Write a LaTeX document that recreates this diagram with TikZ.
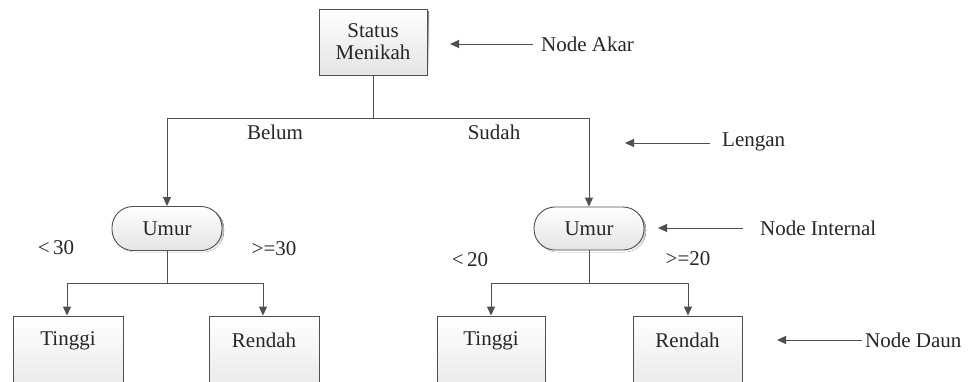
\documentclass[tikz,border=0pt]{standalone}
\usepackage{fontspec}
\setmainfont{Liberation Serif}
\usetikzlibrary{arrows.meta}
\definecolor{edge}{HTML}{505050}
\definecolor{boxtop}{HTML}{FFFFFF}
\definecolor{boxbot}{HTML}{E4E4E4}
\definecolor{shade}{HTML}{C8C8C8}
\tikzset{
  x=1pt, y=-1pt,
  every node/.style={font=\fontsize{21}{22}\selectfont, text=black!85},
  boxbase/.style={draw=edge, line width=0.9pt, top color=boxtop, bottom color=boxbot, inner sep=0pt},
  rootbox/.style={boxbase, minimum width=108pt, minimum height=66pt, align=center},
  leafbox/.style={boxbase, minimum width=110pt, minimum height=90pt},
  pill/.style={boxbase, rounded corners=21pt, minimum width=110pt, minimum height=44pt},
  link/.style={draw=edge, line width=0.9pt},
  arr/.style={link, -{Triangle[length=9pt,width=8pt]}},
  lbl/.style={inner sep=0pt},
  note/.style={inner sep=0pt, anchor=west}
}
\begin{document}
\begin{tikzpicture}
\useasboundingbox (0,0) rectangle (969,381);
\clip (0,0) rectangle (969,381);

% tree nodes (soft shadows first)
\fill[shade] (321,11) rectangle (429,77);
\node[rootbox] (root) at (373,42) {Status\\Menikah};

\fill[shade, rounded corners=21pt] (114,208) rectangle (224,252);
\node[pill] (uL) at (167,228.5) {Umur};
\fill[shade, rounded corners=21pt] (536,209) rectangle (646,252);
\node[pill, minimum height=43pt] (uR) at (589,228.5) {Umur};

\node[leafbox] (t1) at (68,361) {};
\node[leafbox] (r1) at (264,361) {};
\node[leafbox, minimum width=108pt] (t2) at (491,361) {};
\node[leafbox, minimum width=109pt] (r2) at (687.5,361) {};
\node at (68,341) {Tinggi};
\node at (264,340) {Rendah};
\node at (491,341) {Tinggi};
\node at (687.5,340) {Rendah};

% branch junctions
\coordinate (j0) at (373,118);
\coordinate (j0L) at (167,118);
\coordinate (j0R) at (589,118);
\coordinate (j1) at (167,283);
\coordinate (j1L) at (67,283);
\coordinate (j1R) at (263,283);
\coordinate (j2) at (589,283);
\coordinate (j2L) at (491,283);
\coordinate (j2R) at (688,283);

\draw[link] (root.south) -- (j0);
\draw[link] (j0L) -- (j0R);
\draw[arr] (j0L) -- (uL.north);
\draw[arr] (j0R) -- (uR.north);

\draw[link] (uL.south) -- (j1);
\draw[link] (j1L) -- (j1R);
\draw[arr] (j1L) -- (j1L |- t1.north);
\draw[arr] (j1R) -- (j1R |- r1.north);

\draw[link] (uR.south) -- (j2);
\draw[link] (j2L) -- (j2R);
\draw[arr] (j2L) -- (j2L |- t2.north);
\draw[arr] (j2R) -- (j2R |- r2.north);

% branch labels
\node[lbl] at (275,132) {Belum};
\node[lbl] at (494,132) {Sudah};
\node[lbl] at (56,248) {<\,30};
\node[lbl] at (274,249) {>=30};
\node[lbl] at (470,260) {<\,20};
\node[lbl] at (688,259) {>=20};

% annotations
\node[note] (nA) at (541,44) {Node Akar};
\draw[arr] (533,44) -- (450,44);

\node[note] (nL) at (722,142) {Lengan};
\draw[arr] (710,143) -- (625,143);

\node[note] (nI) at (760,228) {Node Internal};
\draw[arr] (743,228) -- (658,228);

\node[note] (nD) at (865,340) {Node Daun};
\draw[arr] (862,340) -- (777,340);
\end{tikzpicture}
\end{document}
